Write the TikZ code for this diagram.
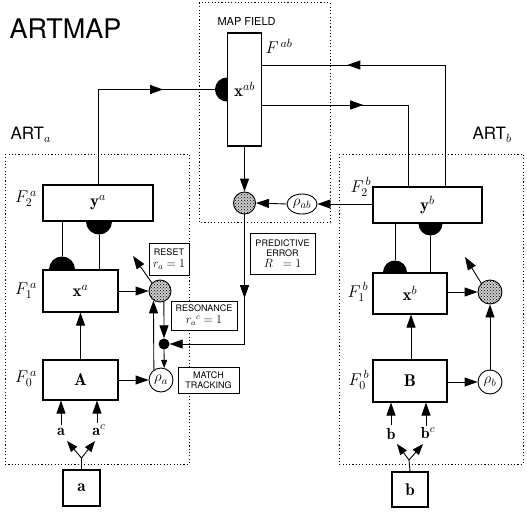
\RequirePackage{fix-cm}
\documentclass[tikz,border=0pt]{standalone}
\usepackage{fontspec}
\setsansfont{TeX Gyre Heros}
\usetikzlibrary{arrows.meta,decorations.markings,patterns,shapes.geometric}

\begin{document}
\begin{tikzpicture}[x=1pt,y=-1pt,
  layer/.style={draw,line width=1.1pt,fill=white,inner sep=0pt,font=\fontsize{17}{19}\selectfont},
  tag/.style={draw,line width=0.8pt,fill=white,inner sep=0pt,align=center,font=\sffamily\fontsize{9}{10}\selectfont},
  field/.style={line width=1pt,dash pattern=on 1.1pt off 2.2pt},
  gate/.style={circle,draw,line width=0.9pt,minimum size=#1,inner sep=0pt,fill=gray!40,postaction={pattern=crosshatch dots}},
  vig/.style={circle,draw,line width=0.9pt,minimum size=24pt,inner sep=0pt,fill=white,font=\fontsize{15}{16}\selectfont},
  flbl/.style={font=\fontsize{17}{18}\selectfont},
  inlbl/.style={inner sep=1pt,font=\fontsize{16}{17}\selectfont},
  conn/.style={line width=0.9pt},
  >={Triangle[length=13pt,width=9pt]},
  midarrow/.style={postaction={decorate},decoration={markings,mark=at position #1 with {\arrow{Triangle[length=13pt,width=9pt]}}}}]
  \useasboundingbox (0,0) rectangle (527,511);
  % field outlines
  \draw[field] (199,3) rectangle (330,222);
  \draw[field] (5,154) rectangle (189,464);
  \draw[field] (339,154) rectangle (523,464);
  \node[anchor=west,font=\sffamily\fontsize{27}{28}\selectfont] (title) at (6,29) {ARTMAP};
  \node[anchor=west,font=\sffamily\fontsize{11}{12}\selectfont] (mflbl) at (214,21) {MAP FIELD};
  \node[anchor=west,font=\sffamily\fontsize{17}{18}\selectfont] (artalbl) at (7,135) {ART$_a$};
  \node[anchor=west,font=\sffamily\fontsize{17}{18}\selectfont] (artblbl) at (469,135) {ART$_b$};

  % layers
  \node[layer,minimum width=34pt,minimum height=113pt] (xab) at (244.5,89.5) {$\mathbf{x}^{ab}$};
  \node[layer,minimum width=110pt,minimum height=36pt] (ya) at (98,203) {$\mathbf{y}^a$};
  \node[layer,minimum width=75pt,minimum height=42pt] (xa) at (80.5,291) {$\mathbf{x}^a$};
  \node[layer,minimum width=75pt,minimum height=40pt] (A) at (80.5,380) {$\mathbf{A}$};
  \node[layer,minimum width=109pt,minimum height=36pt] (yb) at (427.5,205) {$\mathbf{y}^b$};
  \node[layer,minimum width=74pt,minimum height=41pt] (xb) at (410,293.5) {$\mathbf{x}^b$};
  \node[layer,minimum width=74pt,minimum height=42pt] (B) at (410,381) {$\mathbf{B}$};
  \node[layer,minimum width=37pt,minimum height=36pt] (ina) at (81.5,488) {$\mathbf{a}$};
  \node[layer,minimum width=36pt,minimum height=35pt] (inb) at (410,489.5) {$\mathbf{b}$};

  % layer names
  \node[flbl,anchor=west] (fab) at (262,46) {$F^{\,ab}$};
  \node[flbl] (f2a) at (26,199) {$F_2^{\,a}$};
  \node[flbl] (f1a) at (26,291) {$F_1^{\,a}$};
  \node[flbl] (f0a) at (26,379) {$F_0^{\,a}$};
  \node[flbl] (f2b) at (361,187) {$F_2^{\,b}$};
  \node[flbl] (f1b) at (358,292) {$F_1^{\,b}$};
  \node[flbl] (f0b) at (359,380) {$F_0^{\,b}$};

  % gates and vigilance
  \node[gate=22pt] (cab) at (244.5,203) {};
  \node[ellipse,draw,line width=0.9pt,minimum width=30pt,minimum height=20pt,inner sep=0pt,fill=white,font=\fontsize{15}{16}\selectfont] (rab) at (302,204) {$\rho_{ab}$};
  \node[gate=22pt] (ca) at (160,291) {};
  \node[circle,fill=black,minimum size=11pt,inner sep=0pt] (dot) at (164,344) {};
  \node[vig] (ra) at (161,380) {$\rho_a$};
  \node[gate=24pt] (cb) at (490,292) {};
  \node[vig] (rb) at (490,382) {$\rho_b$};

  % tags
  \node[tag,minimum width=40pt,minimum height=32pt] (reset) at (169,259)
    {RESET\\[2pt]{\fontsize{12}{13}\selectfont$r_a=1$}};
  \node[tag,minimum width=66pt,minimum height=29pt] (reson) at (204,315.5)
    {RESONANCE\\[2pt]{\fontsize{12}{13}\selectfont$r_a{}^c=1$}};
  \node[tag,minimum width=65pt,minimum height=41pt] (prederr) at (282.5,253.5)
    {PREDICTIVE\\ERROR\\[1pt]{\fontsize{12}{13}\selectfont$R\;\;=1$}};
  \node[tag,minimum width=61pt,minimum height=26pt] (match) at (208.5,380) {MATCH\\TRACKING};

  % map field links
  \draw[conn,midarrow=0.755] (ya.north) |- ([xshift=-12pt]xab.west);
  \fill (xab.west) ++(0,12) arc[start angle=90,end angle=270,radius=12] -- cycle;
  \draw[conn,midarrow=0.72] ([xshift=17.5pt]yb.north) |- ([yshift=24.5pt]xab.east);
  \draw[conn,midarrow=0.445] ([yshift=-15.5pt]xab.east) -| ([xshift=-19.5pt]yb.north);
  \draw[conn,->] (xab.south) -- (cab.north);
  \draw[conn,->] (yb.west |- rab) -- (rab.east);
  \draw[conn,->] (rab.west) -- (cab.east);
  \draw[conn,midarrow=0.41,->] (cab.south) |- (dot.east);

  % ART_a
  \draw[conn] ([xshift=-36pt]ya.south) -- ([xshift=-18.5pt,yshift=13pt]xa.north);
  \fill ([xshift=-18.5pt]xa.north) ++(-13,0) arc[start angle=180,end angle=360,radius=13] -- cycle;
  \fill ([xshift=1pt]ya.south) ++(13,0) arc[start angle=0,end angle=180,radius=13] -- cycle;
  \draw[conn] ([xshift=1pt,yshift=-13pt]ya.south) -- ([xshift=18.5pt]xa.north);
  \draw[conn,->] (xa.east) -- (ca.west);
  \coordinate (resetend) at (133,256);
  \draw[conn,->] (ca.135) -- (resetend);
  \draw[conn,->] (ca.290) -- (dot.north);
  \draw[conn,-{Triangle[length=8pt,width=6pt]}] (dot.south) -- (ra.75);
  \draw[conn,->] (ra.125) -- (ca.235);
  \draw[conn,->] (A.east) -- (ra.west);
  \draw[conn,->] (A.north) -- (xa.south);
  \node[inlbl] (la) at (61,432) {$\mathbf{a}$};
  \node[inlbl] (lac) at (99,430) {$\mathbf{a}^{c}$};
  \draw[conn,->] (la) ++(0,-7) -- (la |- A.south);
  \draw[conn,->] ([xshift=-2pt]lac.north) -- ([xshift=-2pt]lac.north |- A.south);
  \coordinate (forka) at (81.5,458);
  \coordinate (tipa1) at (67,441);
  \coordinate (tipa2) at (95,441);
  \draw[conn] (ina.north) -- (forka);
  \draw[conn,-{Triangle[length=11pt,width=8pt]}] (forka) -- (tipa1);
  \draw[conn,-{Triangle[length=11pt,width=8pt]}] (forka) -- (tipa2);

  % ART_b
  \draw[conn] ([xshift=-32.5pt]yb.south) -- ([xshift=-15pt,yshift=12pt]xb.north);
  \fill ([xshift=-15pt]xb.north) ++(-12,0) arc[start angle=180,end angle=360,radius=12] -- cycle;
  \fill ([xshift=3pt]yb.south) ++(12,0) arc[start angle=0,end angle=180,radius=12] -- cycle;
  \draw[conn] ([xshift=3pt,yshift=-12pt]yb.south) -- ([xshift=20.5pt]xb.north);
  \draw[conn,->] (xb.east |- cb) -- (cb.west);
  \coordinate (resetbend) at (465,257);
  \draw[conn,->] (cb.135) -- (resetbend);
  \draw[conn,->] (rb.north) -- (cb.south);
  \draw[conn,->] (B.east |- rb) -- (rb.west);
  \draw[conn,->] ([xshift=1pt]B.north) -- ([xshift=1pt]xb.south);
  \node[inlbl] (lb) at (391,434) {$\mathbf{b}$};
  \node[inlbl] (lbc) at (428,433) {$\mathbf{b}^{c}$};
  \draw[conn,->] (lb) ++(0,-9) -- (lb |- B.south);
  \draw[conn,->] ([xshift=-2pt]lbc.north) -- ([xshift=-2pt]lbc.north |- B.south);
  \coordinate (forkb) at (409,460);
  \coordinate (tipb1) at (397,444);
  \coordinate (tipb2) at (423,444);
  \draw[conn] (inb.north) -- (forkb);
  \draw[conn,-{Triangle[length=11pt,width=8pt]}] (forkb) -- (tipb1);
  \draw[conn,-{Triangle[length=11pt,width=8pt]}] (forkb) -- (tipb2);
\end{tikzpicture}
\end{document}
